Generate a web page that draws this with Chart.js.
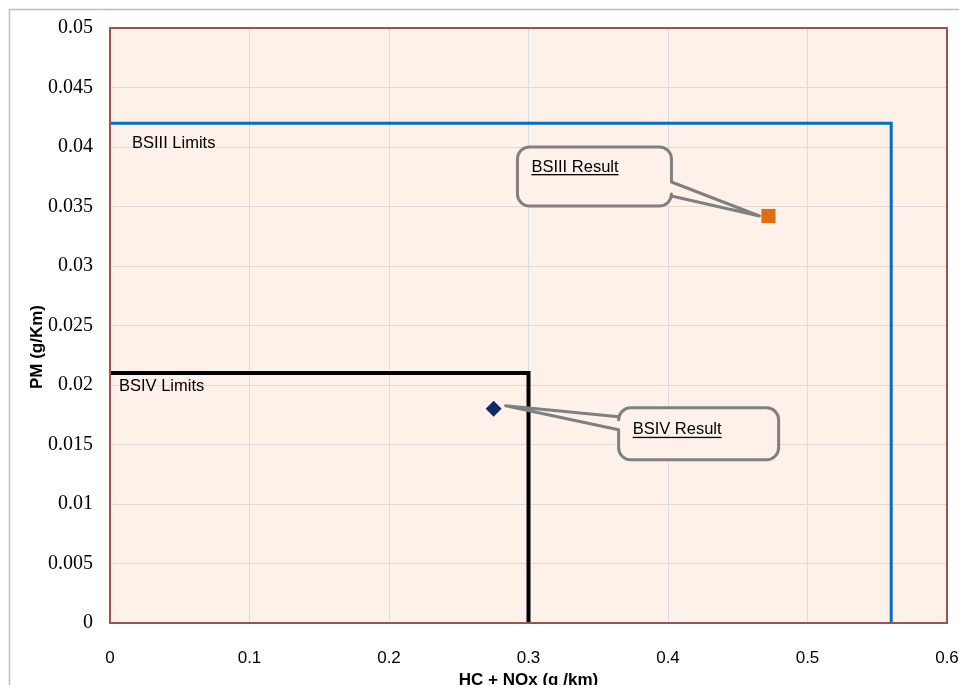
<!DOCTYPE html>
<html>
<head>
<meta charset="utf-8">
<title>Emission results vs limits</title>
<script src="https://cdn.jsdelivr.net/npm/chart.js@4/dist/chart.umd.min.js"></script>
<style>
    html, body { margin: 0; padding: 0; background: #fff; }
    canvas { display: block; }
</style>
</head>
<body>
<canvas id="emissionChart" width="959" height="685"></canvas>
<script>
// Axis ticks
const xTickValues = [0, 0.1, 0.2, 0.3, 0.4, 0.5, 0.6];
const xTickLabels = ['0', '0.1', '0.2', '0.3', '0.4', '0.5', '0.6'];
const yTickValues = [0, 0.005, 0.01, 0.015, 0.02, 0.025, 0.03, 0.035, 0.04, 0.045, 0.05];
const yTickLabels = ['0', '0.005', '0.01', '0.015', '0.02', '0.025', '0.03', '0.035', '0.04', '0.045', '0.05'];

// Limit boxes (HC+NOx, PM)
const bsiiiLimitX = [0, 0.56, 0.56];
const bsiiiLimitY = [0.042, 0.042, 0];
const bsivLimitX = [0, 0.3, 0.3];
const bsivLimitY = [0.021, 0.021, 0];

// Measured results [HC+NOx, PM]
const bsiiiResult = [0.472, 0.0342];
const bsivResult = [0.275, 0.018];

const PEACH = '#fdf1e9';
const LABEL_FONT = '16.5px "Liberation Sans", Arial, sans-serif';

function toPoints(xs, ys) {
    return xs.map((x, i) => ({ x: x, y: ys[i] }));
}

// text labels sitting under the limit lines
const limitLabels = [
    { text: 'BSIII Limits', x: bsiiiLimitX[0], y: bsiiiLimitY[0], dx: 22, dy: 20 },
    { text: 'BSIV Limits', x: bsivLimitX[0], y: bsivLimitY[0], dx: 9, dy: 13 }
];

// callout boxes, offsets in px from the point they point at
const callouts = [
    { text: 'BSIII Result', point: bsiiiResult, dx: -251, dy: -69, w: 154, h: 59,
      side: 'right', b1: 35, b2: 49, tipDx: -9, tipDy: 0, textDy: 20 },
    { text: 'BSIV Result', point: bsivResult, dx: 125, dy: -1, w: 160, h: 52,
      side: 'left', b1: 9, b2: 22, tipDx: 12, tipDy: -3, textDy: 22 }
];

function calloutPath(ctx, x, y, w, h, r, side, b1, b2, tip) {
    ctx.beginPath();
    ctx.moveTo(x + r, y);
    ctx.lineTo(x + w - r, y);
    ctx.arcTo(x + w, y, x + w, y + r, r);
    if (side === 'right') {
        ctx.lineTo(x + w, y + b1);
        ctx.lineTo(tip.x, tip.y);
        ctx.lineTo(x + w, y + b2);
    }
    ctx.lineTo(x + w, y + h - r);
    ctx.arcTo(x + w, y + h, x + w - r, y + h, r);
    ctx.lineTo(x + r, y + h);
    ctx.arcTo(x, y + h, x, y + h - r, r);
    if (side === 'left') {
        ctx.lineTo(x, y + b2);
        ctx.lineTo(tip.x, tip.y);
        ctx.lineTo(x, y + b1);
    }
    ctx.lineTo(x, y + r);
    ctx.arcTo(x, y, x + r, y, r);
    ctx.closePath();
}

const framePlugin = {
    id: 'frame',
    beforeDraw(chart) {
        let ctx = chart.ctx;
        let a = chart.chartArea;
        ctx.save();
        ctx.fillStyle = '#fff';
        ctx.fillRect(0, 0, chart.width, chart.height);
        // outer chart border
        ctx.strokeStyle = '#bfbfbf';
        ctx.lineWidth = 1.5;
        ctx.beginPath();
        ctx.moveTo(9.5, chart.height);
        ctx.lineTo(9.5, 9.5);
        ctx.lineTo(chart.width, 9.5);
        ctx.stroke();
        // plot area fill
        ctx.fillStyle = PEACH;
        ctx.fillRect(a.left, a.top, a.width, a.height);
        ctx.restore();
    },
    afterDatasetsDraw(chart) {
        let ctx = chart.ctx;
        let a = chart.chartArea;
        let xs = chart.scales.x;
        let ys = chart.scales.y;
        ctx.save();
        ctx.strokeStyle = '#a0504d';
        ctx.lineWidth = 2;
        ctx.strokeRect(a.left, a.top, a.width, a.height);

        ctx.fillStyle = '#000';
        ctx.font = LABEL_FONT;
        ctx.textBaseline = 'middle';
        ctx.textAlign = 'left';
        limitLabels.forEach(l => {
            ctx.fillText(l.text, xs.getPixelForValue(l.x) + l.dx, ys.getPixelForValue(l.y) + l.dy);
        });
        ctx.restore();
    },
    afterDraw(chart) {
        let ctx = chart.ctx;
        let a = chart.chartArea;
        let xs = chart.scales.x;
        let ys = chart.scales.y;
        ctx.save();

        callouts.forEach(c => {
            let px = xs.getPixelForValue(c.point[0]);
            let py = ys.getPixelForValue(c.point[1]);
            let bx = px + c.dx;
            let by = py + c.dy;
            calloutPath(ctx, bx, by, c.w, c.h, 12, c.side, c.b1, c.b2, { x: px + c.tipDx, y: py + c.tipDy });
            ctx.fillStyle = PEACH;
            ctx.fill();
            ctx.strokeStyle = '#808080';
            ctx.lineWidth = 3;
            ctx.lineJoin = 'round';
            ctx.stroke();

            ctx.fillStyle = '#000';
            ctx.font = LABEL_FONT;
            ctx.textAlign = 'left';
            ctx.textBaseline = 'middle';
            let tx = bx + 14;
            let ty = by + c.textDy;
            ctx.fillText(c.text, tx, ty);
            let tw = ctx.measureText(c.text).width;
            ctx.fillRect(tx, ty + 7, tw, 1.3);
        });

        // axis titles
        ctx.fillStyle = '#000';
        ctx.font = 'bold 17px "Liberation Sans", Arial, sans-serif';
        ctx.textAlign = 'center';
        ctx.textBaseline = 'middle';
        ctx.fillText('HC + NOx (g /km)', (a.left + a.right) / 2, 680);

        ctx.translate(37.5, 347);
        ctx.rotate(-Math.PI / 2);
        ctx.fillText('PM (g/Km)', 0, 0);
        ctx.restore();
    }
};

let ctx = document.getElementById('emissionChart').getContext('2d');

new Chart(ctx, {
    type: 'scatter',
    data: {
        datasets: [
            {
                label: 'BSIII Limits',
                data: toPoints(bsiiiLimitX, bsiiiLimitY),
                showLine: true,
                borderColor: '#0070c0',
                borderWidth: 3,
                pointRadius: 0,
                fill: false
            },
            {
                label: 'BSIV Limits',
                data: toPoints(bsivLimitX, bsivLimitY),
                showLine: true,
                borderColor: '#000000',
                borderWidth: 4,
                pointRadius: 0,
                fill: false
            },
            {
                label: 'BSIII Result',
                data: [{ x: bsiiiResult[0], y: bsiiiResult[1] }],
                pointStyle: 'rect',
                pointRadius: 10,
                backgroundColor: '#e46c0a',
                borderColor: '#e46c0a',
                borderWidth: 0
            },
            {
                label: 'BSIV Result',
                data: [{ x: bsivResult[0], y: bsivResult[1] }],
                pointStyle: 'rectRot',
                pointRadius: 8,
                backgroundColor: '#10296b',
                borderColor: '#10296b',
                borderWidth: 0
            }
        ]
    },
    options: {
        responsive: false,
        animation: false,
        layout: { padding: { left: 10, top: 28, right: 12, bottom: 0 } },
        plugins: {
            legend: { display: false },
            tooltip: { enabled: false }
        },
        scales: {
            x: {
                type: 'linear',
                min: 0,
                max: 0.6,
                afterBuildTicks: s => { s.ticks = xTickValues.map(v => ({ value: v })); },
                afterFit: s => { s.height = 62; s.paddingLeft = 0; s.paddingRight = 0; },
                grid: { color: '#d6dce4', lineWidth: 1, drawTicks: false },
                border: { display: false },
                ticks: {
                    autoSkip: false,
                    maxRotation: 0,
                    padding: 25,
                    color: '#000',
                    font: { family: '"Liberation Sans", Arial, sans-serif', size: 17 },
                    callback: (v, i) => xTickLabels[i]
                }
            },
            y: {
                type: 'linear',
                min: 0,
                max: 0.05,
                afterBuildTicks: s => { s.ticks = yTickValues.map(v => ({ value: v })); },
                afterFit: s => { s.width = 100; s.paddingTop = 0; s.paddingBottom = 0; },
                grid: { color: '#dedad6', lineWidth: 1, drawTicks: false },
                border: { display: false },
                ticks: {
                    autoSkip: false,
                    padding: 17,
                    color: '#000',
                    font: { family: '"Liberation Serif", "Times New Roman", serif', size: 20 },
                    callback: (v, i) => yTickLabels[i]
                }
            }
        }
    },
    plugins: [framePlugin]
});
</script>
</body>
</html>
